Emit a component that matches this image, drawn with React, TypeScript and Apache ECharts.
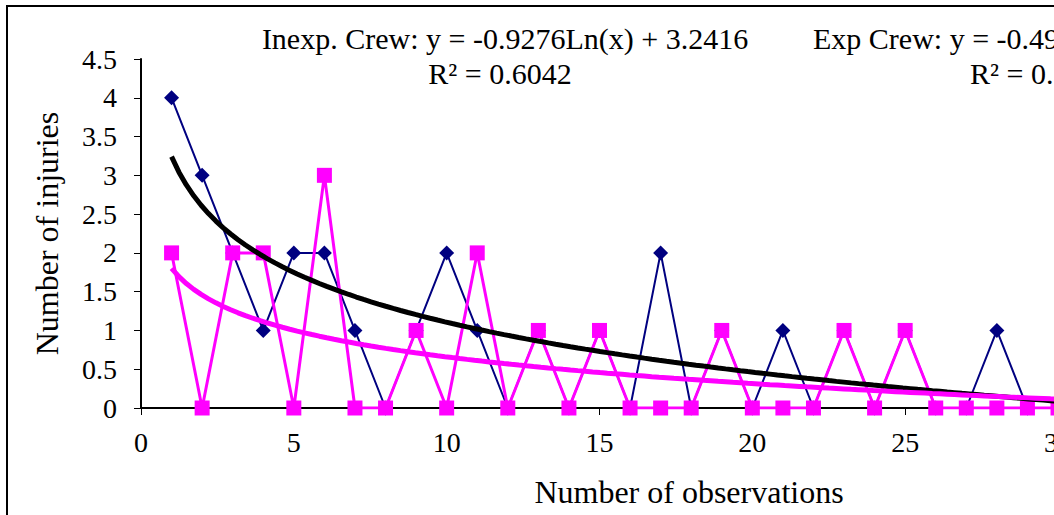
import React, { useEffect, useRef } from "react";
import * as echarts from "echarts";

const observations = [1,2,3,4,5,6,7,8,9,10,11,12,13,14,15,16,17,18,19,20,21,22,23,24,25,26,27,28,29,30];
const inexpCrew = [4,3,2,1,2,2,1,0,1,2,1,0,1,0,1,0,2,0,1,0,1,0,1,0,1,0,0,1,0,0];
const expCrew = [2,0,2,2,0,3,0,0,1,0,2,0,1,0,1,0,0,0,1,0,0,0,1,0,1,0,0,0,0,0];
const xTicks = [0,5,10,15,20,25,30];
const yTicks = [0,0.5,1,1.5,2,2.5,3,3.5,4,4.5];

function logFit(xs: number[], ys: number[]) {
  const n = xs.length;
  const L = xs.map((x) => Math.log(x));
  const mL = L.reduce((a, b) => a + b, 0) / n;
  const mY = ys.reduce((a, b) => a + b, 0) / n;
  let sxy = 0, sxx = 0, syy = 0;
  for (let i = 0; i < n; i++) {
    sxy += (L[i] - mL) * (ys[i] - mY);
    sxx += (L[i] - mL) ** 2;
    syy += (ys[i] - mY) ** 2;
  }
  const b = sxy / sxx;
  const a = mY - b * mL;
  const r2 = (b * sxy) / syy;
  return { a, b, r2 };
}

function trendPoints(fit: { a: number; b: number }, x0: number, x1: number) {
  const pts: number[][] = [];
  const steps = 120;
  for (let i = 0; i <= steps; i++) {
    const x = x0 + ((x1 - x0) * i) / steps;
    pts.push([x, fit.a + fit.b * Math.log(x)]);
  }
  return pts;
}

export default function App() {
  const ref = useRef<HTMLDivElement>(null);
  useEffect(() => {
    if (!ref.current) return;
    const chart = echarts.init(ref.current, null, { renderer: "svg" });
    const fitI = logFit(observations, inexpCrew);
    const fitE = logFit(observations, expCrew);
    const x0 = observations[0];
    const x1 = observations[observations.length - 1];
    const font = "'Liberation Serif', 'Times New Roman', serif";
    const tickFs = 28;
    const noteFs = 30;
    const titleFs = 32;
    const expLine1 = `Exp Crew: y = ${fitE.b.toFixed(4)}Ln(x) + ${fitE.a.toFixed(4)}`;
    const expLine2 = `R² = ${fitE.r2.toFixed(4)}`;
    chart.setOption({
      animation: false,
      backgroundColor: "#ffffff",
      grid: { left: 141, right: 92, top: 59, bottom: 107, containLabel: false },
      xAxis: {
        type: "value",
        min: 0,
        max: 30,
        interval: 5,
        axisLine: { show: true, onZero: false, lineStyle: { color: "#000", width: 2 } },
        axisTick: { show: true, inside: false, length: 7, lineStyle: { color: "#000", width: 1 } },
        axisLabel: {
          fontFamily: font, fontSize: tickFs, color: "#000", margin: 20,
          formatter: (v: number) => (xTicks.includes(v) ? String(v) : ""),
        },
        splitLine: { show: false },
      },
      yAxis: {
        type: "value",
        min: 0,
        max: 4.5,
        interval: 0.5,
        name: "Number of injuries",
        nameLocation: "middle",
        nameGap: 78,
        nameRotate: 90,
        nameTextStyle: { fontFamily: font, fontSize: titleFs, color: "#000" },
        axisLine: { show: true, lineStyle: { color: "#000", width: 2 } },
        axisTick: { show: true, inside: false, length: 7, lineStyle: { color: "#000", width: 1 } },
        axisLabel: {
          fontFamily: font, fontSize: tickFs, color: "#000", margin: 24,
          formatter: (v: number) => (yTicks.includes(v) ? String(v) : ""),
        },
        splitLine: { show: false },
      },
      series: [
        {
          name: "Inexp. Crew",
          type: "line",
          data: observations.map((x, i) => [x, inexpCrew[i]]),
          symbol: "diamond",
          symbolSize: 15,
          itemStyle: { color: "#000080" },
          lineStyle: { color: "#000080", width: 2 },
          z: 2,
        },
        {
          name: "Exp Crew",
          type: "line",
          data: observations.map((x, i) => [x, expCrew[i]]),
          symbol: "rect",
          symbolSize: 15,
          itemStyle: { color: "#ff00ff" },
          lineStyle: { color: "#ff00ff", width: 3 },
          z: 3,
        },
        {
          name: "Inexp trend",
          type: "line",
          data: trendPoints(fitI, x0, x1),
          showSymbol: false,
          symbol: "none",
          lineStyle: { color: "#000000", width: 5 },
          z: 4,
        },
        {
          name: "Exp trend",
          type: "line",
          data: trendPoints(fitE, x0, x1),
          showSymbol: false,
          symbol: "none",
          lineStyle: { color: "#ff00ff", width: 5 },
          z: 5,
        },
      ],
      graphic: [
        {
          type: "rect",
          shape: { x: 7, y: 6, width: 1300, height: 700 },
          style: { fill: "none", stroke: "#000", lineWidth: 2 },
          silent: true,
        },
        {
          type: "text",
          x: 505,
          y: 38,
          style: {
            text: "Inexp. Crew: y = -0.9276Ln(x) + 3.2416",
            font: `${noteFs}px ${font}`,
            fill: "#000",
            align: "center",
            verticalAlign: "middle",
          },
        },
        {
          type: "text",
          x: 500,
          y: 73,
          style: {
            text: "R² = 0.6042",
            font: `${noteFs}px ${font}`,
            fill: "#000",
            align: "center",
            verticalAlign: "middle",
          },
        },
        {
          type: "text",
          x: 813,
          y: 38,
          style: {
            text: expLine1,
            font: `${noteFs}px ${font}`,
            fill: "#000",
            align: "left",
            verticalAlign: "middle",
          },
        },
        {
          type: "text",
          x: 970,
          y: 73,
          style: {
            text: expLine2,
            font: `${noteFs}px ${font}`,
            fill: "#000",
            align: "left",
            verticalAlign: "middle",
          },
        },
        {
          type: "text",
          x: 689,
          y: 492,
          style: {
            text: "Number of observations",
            font: `${titleFs}px ${font}`,
            fill: "#000",
            align: "center",
            verticalAlign: "middle",
          },
        },
      ],
    });
    return () => chart.dispose();
  }, []);
  return (
    <div style={{ position: "fixed", left: 0, top: 0, width: 1054, height: 515, overflow: "hidden", background: "#fff" }}>
      <div ref={ref} style={{ width: 1150, height: 515 }} />
    </div>
  );
}
